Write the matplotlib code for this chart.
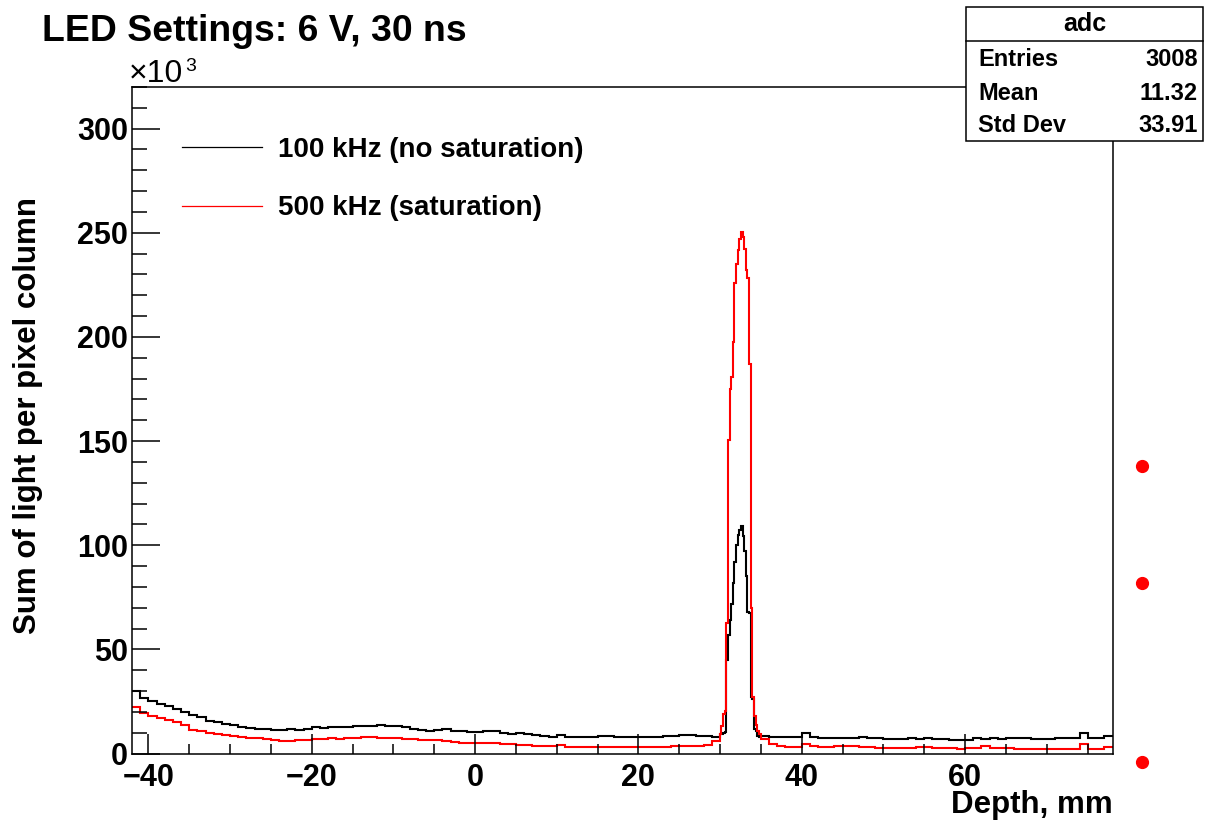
import numpy as np
import matplotlib
matplotlib.use("Agg")
import matplotlib.pyplot as plt
from matplotlib.patches import Rectangle
from matplotlib.lines import Line2D
from matplotlib.ticker import MultipleLocator

plt.rcParams['font.family'] = ['Liberation Sans', 'DejaVu Sans']
plt.rcParams['font.weight'] = 'bold'

# ---------------- data (values in units of 10^3) ----------------
title = "LED Settings: 6 V, 30 ns"
xlabel = "Depth, mm"
ylabel = "Sum of light per pixel column"
label_black = "100 kHz (no saturation)"
label_red = "500 kHz (saturation)"

# bin edges (mm): coarse 1 mm bins, fine 0.2 mm bins across the peak, coarse again
edges_left = list(range(-42, 30))                       # -42 ... 29
edges_peak = [round(29.95 + 0.2 * i, 2) for i in range(26)]  # 29.95 ... 34.95
edges_right = list(range(36, 78)) + [78.1]              # 36 ... 77, 78.1

black_left = [30.0, 26.5, 25.0, 24.0, 22.8, 21.5, 20.0, 18.5, 17.5, 15.8,
              15.0, 14.0, 13.5, 12.9, 12.4, 11.8, 11.6, 11.2, 11.4, 11.7,
              11.5, 12.0, 12.8, 12.3, 12.6, 12.7, 12.9, 13.0, 13.2, 13.4,
              13.5, 13.3, 13.1, 12.5, 12.0, 11.4, 11.0, 11.5, 11.6, 11.0,
              10.7, 10.4, 10.2, 10.6, 10.9, 9.8, 9.6, 9.7, 9.3, 8.7,
              8.5, 8.1, 9.0, 8.0, 8.1, 7.9, 8.1, 8.4, 8.5, 7.9,
              7.7, 8.0, 8.1, 8.0, 7.9, 8.3, 8.4, 8.7, 8.9, 8.6,
              8.2, 7.8]
black_peak = [9.5, 9.5, 10.0, 10.5, 45.0, 57.0, 64.0, 72.0, 82.0, 92.0,
              100.0, 105.0, 107.5, 109.0, 104.5, 97.0, 85.0, 68.0, 67.5, 27.0,
              26.0, 12.0, 11.0, 8.5, 8.0]
black_right = [8.2, 8.0, 7.8, 7.9, 7.8, 10.0, 7.8, 7.5, 7.3, 7.4,
               7.3, 7.6, 7.8, 7.5, 7.3, 7.1, 6.8, 7.0, 7.3, 7.2,
               7.3, 7.0, 6.8, 6.6, 6.3, 6.6, 7.3, 7.2, 7.3, 7.1,
               7.3, 7.4, 7.3, 7.1, 6.8, 7.0, 7.3, 7.4, 7.6, 9.8,
               7.3, 7.5, 8.5]

red_left = [22.5, 19.6, 18.2, 17.2, 16.3, 15.3, 13.5, 11.5, 10.6, 9.8,
            9.4, 8.8, 8.4, 7.9, 7.6, 7.4, 7.2, 6.6, 6.2, 6.2,
            6.3, 6.5, 6.9, 7.0, 7.3, 7.2, 7.4, 7.5, 7.8, 7.7,
            7.6, 7.5, 7.3, 7.1, 6.8, 6.6, 6.5, 6.5, 6.2, 5.5,
            5.2, 5.0, 4.9, 5.2, 5.0, 4.6, 4.5, 4.2, 4.0, 3.8,
            3.7, 3.5, 4.0, 3.1, 3.0, 2.9, 2.9, 3.2, 3.3, 3.3,
            3.2, 3.0, 3.0, 3.0, 3.1, 3.3, 3.4, 3.7, 3.8, 3.8,
            4.2, 5.8]
red_peak = [9.6, 13.0, 19.0, 20.5, 62.7, 150.7, 174.8, 181.0, 197.4, 226.0,
            235.0, 241.6, 247.0, 250.2, 248.0, 242.4, 232.0, 228.5, 186.8, 70.0,
            27.0, 18.0, 13.5, 11.0, 9.5]
red_right = [7.0, 4.5, 3.6, 3.3, 3.2, 4.6, 3.4, 3.2, 3.2, 3.4,
             3.5, 3.6, 3.0, 2.9, 2.8, 2.8, 2.7, 2.7, 2.8, 2.9,
             2.9, 2.7, 2.6, 2.5, 2.4, 2.5, 2.7, 3.6, 2.7, 2.6,
             2.5, 2.4, 2.4, 2.3, 2.3, 2.2, 2.2, 2.3, 2.4, 4.5,
             2.2, 2.4, 3.3]

# extra points drawn beyond the frame
dots_x = [81.6, 81.6, 81.6]
dots_y = [138.2, 82.0, -4.1]

# statistics box
stats_name = "adc"
stats_labels = ["Entries", "Mean", "Std Dev"]
stats_values = ["3008", "11.32", "33.91"]

xticks_major = [-40, -20, 0, 20, 40, 60]
yticks_major = [0, 50, 100, 150, 200, 250, 300]

# ---------------- figure ----------------
W, H = 1205, 821
fig = plt.figure(figsize=(W / 100, H / 100), dpi=100)

def fx(px):
    return px / W

def fy(py):
    return 1 - py / H

ax = fig.add_axes([fx(132), fy(753.5), fx(1113) - fx(132), fy(87) - fy(753.5)])

edges = np.array(edges_left + edges_peak + edges_right, dtype=float)
black = np.array(black_left + black_peak + black_right)
red = np.array(red_left + red_peak + red_right)

ax.stairs(black, edges, color='black', lw=1.5, label=label_black, baseline=None)
ax.stairs(red, edges, color='#ff0000', lw=1.5, label=label_red, baseline=None)

ax.plot(dots_x, dots_y, 'o', color='#ff0000', ms=8.5, clip_on=False, zorder=20)

ax.set_xlim(-42, 78.1)
ax.set_ylim(0, 320)

ax.set_xticks(xticks_major)
ax.set_yticks(yticks_major)
ax.xaxis.set_minor_locator(MultipleLocator(5))
ax.yaxis.set_minor_locator(MultipleLocator(10))
ax.tick_params(axis='both', which='both', direction='in', top=False, right=False,
               width=1.1, labelsize=22)
ax.tick_params(axis='y', which='major', length=20.5, pad=3)
ax.tick_params(axis='y', which='minor', length=10.5)
ax.tick_params(axis='x', which='major', length=14.5, pad=7)
ax.tick_params(axis='x', which='minor', length=7.2)
for lab in ax.get_xticklabels() + ax.get_yticklabels():
    lab.set_fontweight('bold')
for sp in ax.spines.values():
    sp.set_linewidth(1.1)

leg = ax.legend(loc='upper left', bbox_to_anchor=(0.051, 0.925), frameon=False,
                fontsize=20, handlelength=2.88, handletextpad=0.58,
                labelspacing=1.17, borderpad=0, borderaxespad=0)
for t in leg.get_texts():
    t.set_fontweight('bold')
for h in leg.legend_handles:
    h.set_linewidth(0.9)

# titles and labels
fig.text(fx(42), fy(41), title, fontsize=26.9, fontweight='bold', ha='left', va='baseline')
fig.text(fx(28), fy(416), ylabel, fontsize=22.5, fontweight='bold', rotation=90,
         ha='center', va='center')
fig.text(fx(1113), fy(813), xlabel, fontsize=22.5, fontweight='bold', ha='right', va='baseline')
fig.text(fx(129), fy(82), "\u00d710", fontsize=23, fontweight='normal', ha='left', va='baseline')
fig.text(fx(185), fy(71), "3", fontsize=14, fontweight='normal', ha='left', va='baseline')

# statistics box
box = Rectangle((fx(966), fy(141)), fx(1203) - fx(966), fy(7) - fy(141),
                transform=fig.transFigure, facecolor='white', edgecolor='black',
                lw=1.1, zorder=10)
fig.add_artist(box)
fig.add_artist(Line2D([fx(966), fx(1203)], [fy(41), fy(41)], transform=fig.transFigure,
                      color='black', lw=1.1, zorder=11))
fig.text(fx(1084.5), fy(24), stats_name, fontsize=18, fontweight='bold',
         ha='center', va='center', zorder=12)
for i, (lab, val) in enumerate(zip(stats_labels, stats_values)):
    yy = [59, 93, 126][i]
    fig.text(fx(978), fy(yy), lab, fontsize=17, fontweight='bold', ha='left',
             va='center', zorder=12)
    fig.text(fx(1198), fy(yy), val, fontsize=17, fontweight='bold', ha='right',
             va='center', zorder=12)

fig.savefig("out.png", dpi=100)
